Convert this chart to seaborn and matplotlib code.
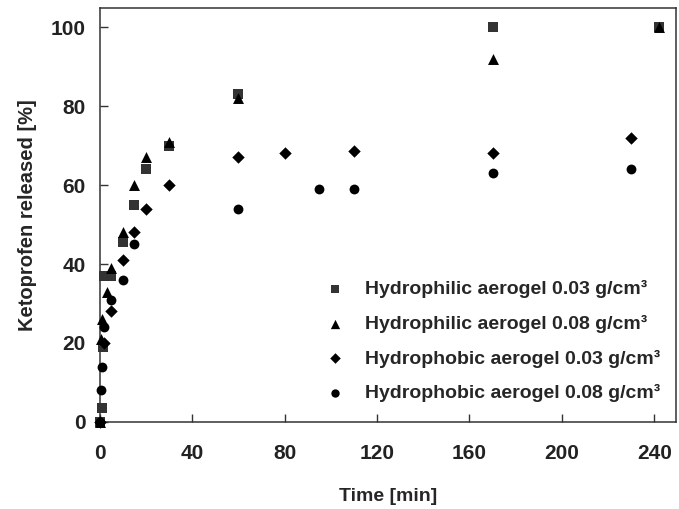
import matplotlib
matplotlib.use("Agg")
import matplotlib.pyplot as plt
import pandas as pd
import seaborn as sns

# release data
sq_t = [0, 1, 1.5, 2, 5, 10, 15, 20, 30, 60, 170, 242]
sq_y = [0, 3.5, 19, 37, 37, 45.5, 55, 64, 70, 83, 100, 100]

tri_t = [0, 0.5, 1, 3, 5, 10, 15, 20, 30, 60, 170, 242]
tri_y = [0, 21, 26, 33, 39, 48, 60, 67, 71, 82, 92, 100]

dia_t = [0, 2, 5, 10, 15, 20, 30, 60, 80, 110, 170, 230]
dia_y = [0, 20, 28, 41, 48, 54, 60, 67, 68, 68.5, 68, 72]

circ_t = [0, 0.3, 1, 2, 5, 10, 15, 60, 95, 110, 170, 230]
circ_y = [0, 8, 14, 24, 31, 36, 45, 54, 59, 59, 63, 64]

labels = [
    "Hydrophilic aerogel 0.03 g/cm³",
    "Hydrophilic aerogel 0.08 g/cm³",
    "Hydrophobic aerogel 0.03 g/cm³",
    "Hydrophobic aerogel 0.08 g/cm³",
]
x_ticks = [0, 40, 80, 120, 160, 200, 240]
y_ticks = [0, 20, 40, 60, 80, 100]

frames = []
for lab, t, y in zip(labels, [sq_t, tri_t, dia_t, circ_t], [sq_y, tri_y, dia_y, circ_y]):
    frames.append(pd.DataFrame({"time": t, "released": y, "series": lab}))
df = pd.concat(frames, ignore_index=True)

sns.set_style("ticks")
plt.rcParams["font.family"] = ["Liberation Sans", "DejaVu Sans"]
plt.rcParams["font.weight"] = "bold"
plt.rcParams["xtick.direction"] = "in"
plt.rcParams["ytick.direction"] = "in"

fig = plt.figure(figsize=(6.79, 5.09), dpi=100)
ax = fig.add_axes([0.147, 0.171, 0.849, 0.813])

markers = dict(zip(labels, ["s", "^", "D", "o"]))
sizes = dict(zip(labels, [48, 62, 40, 50]))
palette = dict(zip(labels, ["#333333", "#000000", "#000000", "#000000"]))

for lab in labels:
    sub = df[df["series"] == lab]
    sns.scatterplot(
        data=sub, x="time", y="released", ax=ax,
        marker=markers[lab], s=sizes[lab], color=palette[lab],
        linewidth=0, label=lab, clip_on=False, zorder=3,
    )

ax.set_xlim(0, 249.5)
ax.set_ylim(0, 104.8)
ax.set_xticks(x_ticks)
ax.set_yticks(y_ticks)
ax.tick_params(axis="x", pad=16)
ax.tick_params(axis="y", pad=10)
ax.tick_params(axis="both", labelsize=15, length=6, width=1, color="#333333",
               labelcolor="#222222")
for lbl in ax.get_xticklabels() + ax.get_yticklabels():
    lbl.set_fontweight("bold")
for sp in ax.spines.values():
    sp.set_linewidth(1.1)
    sp.set_color("#333333")

ax.set_xlabel("Time [min]", fontsize=14, fontweight="bold", labelpad=18)
ax.set_ylabel("Ketoprofen released [%]", fontsize=14.5, fontweight="bold", labelpad=10)

ax.legend(
    loc="lower right", bbox_to_anchor=(0.995, 0.015), frameon=False,
    prop={"size": 14, "weight": "bold"}, labelspacing=0.85,
    handletextpad=0.5, markerscale=0.85, borderaxespad=0.3,
)

fig.savefig("out.png", dpi=100)
